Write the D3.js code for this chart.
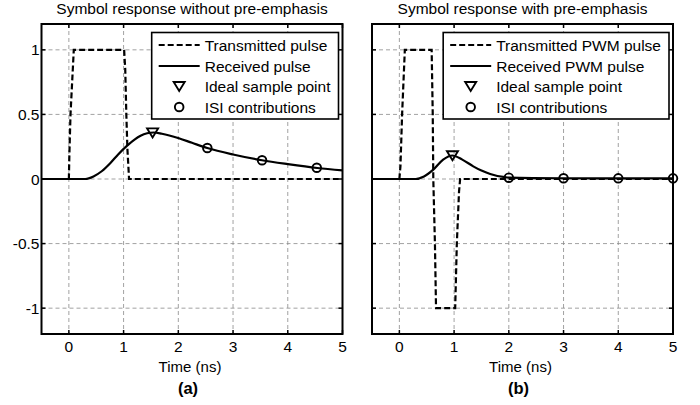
<!DOCTYPE html>
<html>
<head>
<meta charset="utf-8">
<script src="https://cdn.jsdelivr.net/npm/d3@7"></script>
<style>
	body { margin: 0; background: #fff; }
	text { font-family: "Liberation Sans", Arial, sans-serif; fill: #000; }
</style>
</head>
<body>
<div id="chart"></div>
<script>
// ticks
var xTicks = [0, 1, 2, 3, 4, 5];
var yTicks = [-1, -0.5, 0, 0.5, 1];
var yTickLabels = ["-1", "-0.5", "0", "0.5", "1"];

// (a) without pre-emphasis
var txTimeA = [-0.5, 0, 0.01, 0.03, 0.09, 1.01, 1.03, 1.05, 1.07, 1.1, 5];
var txA = [0, 0, 0.2, 0.5, 1, 1, 0.85, 0.5, 0.23, 0, 0];
var rxTimeA = [-0.5, 0, 0.3, 0.45, 0.6, 0.76, 0.9, 1.07, 1.2, 1.31, 1.43, 1.55, 1.7, 2.01, 2.25, 2.53, 3.0, 3.53, 4.0, 4.54, 5.0];
var rxA = [0, 0, 0, 0.02, 0.06, 0.124, 0.19, 0.26, 0.305, 0.335, 0.354, 0.36, 0.35, 0.315, 0.28, 0.24, 0.19, 0.145, 0.115, 0.085, 0.067];
var sampleTimeA = [1.53];
var sampleA = [0.357];
var isiTimeA = [2.53, 3.53, 4.53];
var isiA = [0.24, 0.145, 0.087];

// (b) with pre-emphasis
var txTimeB = [-0.5, 0, 0.02, 0.05, 0.1, 0.59, 0.61, 0.62, 0.65, 0.67, 1.02, 1.05, 1.09, 1.11, 5];
var txB = [0, 0, 0.1, 0.5, 1, 1, 0.5, 0, -0.5, -1, -1, -0.5, -0.1, 0, 0];
var rxTimeB = [-0.5, 0, 0.3, 0.45, 0.62, 0.8, 0.97, 1.15, 1.35, 1.5, 1.66, 1.93, 2.0, 3, 4, 5];
var rxB = [0, 0, 0, 0.02, 0.072, 0.15, 0.182, 0.15, 0.098, 0.065, 0.039, 0.014, 0.011, 0.006, 0.005, 0.005];
var sampleTimeB = [0.97];
var sampleB = [0.18];
var isiTimeB = [2, 3, 4, 5];
var isiB = [0.01, 0.006, 0.005, 0.005];

var titles = ["Symbol response without pre-emphasis", "Symbol response with pre-emphasis"];
var legendA = ["Transmitted pulse", "Received pulse", "Ideal sample point", "ISI contributions"];
var legendB = ["Transmitted PWM pulse", "Received PWM pulse", "Ideal sample point", "ISI contributions"];

var svg = d3.select("#chart")
	.append("svg")
	.attr("width", 700)
	.attr("height", 405)

var top0 = 24, plotH = 310, plotW = 301;

function zip(xs, ys) {
	return xs.map(function (x, i) { return [x, ys[i]] });
}

function triangle(sel) {
	sel.attr("d", "M-5.5,-4.5L5.5,-4.5L0,4.5Z")
		.attr("fill", "none")
		.attr("stroke", "#000")
		.attr("stroke-width", 1.9)
		.attr("stroke-linejoin", "miter")
}

function drawPanel(left, p) {
	var x = d3.scaleLinear().domain([-0.5, 5]).range([0, plotW]);
	var y = d3.scaleLinear().domain([-1.2, 1.2]).range([plotH, 0]);

	var g = svg.append("g").attr("transform", "translate(" + left + "," + top0 + ")");

	// grid
	g.selectAll(".vgrid").data(xTicks).enter().append("line")
		.attr("x1", function (d) { return x(d) }).attr("x2", function (d) { return x(d) })
		.attr("y1", 0).attr("y2", plotH)
		.attr("stroke", "#8a8a8a").attr("stroke-width", 0.8).attr("stroke-dasharray", "4,3")
	g.selectAll(".hgrid").data(yTicks).enter().append("line")
		.attr("y1", function (d) { return y(d) }).attr("y2", function (d) { return y(d) })
		.attr("x1", 0).attr("x2", plotW)
		.attr("stroke", "#8a8a8a").attr("stroke-width", 0.8).attr("stroke-dasharray", "4,3")

	var line = d3.line().x(function (d) { return x(d[0]) }).y(function (d) { return y(d[1]) });
	var smooth = d3.line().x(function (d) { return x(d[0]) }).y(function (d) { return y(d[1]) }).curve(d3.curveMonotoneX);

	g.append("path").datum(zip(p.txTime, p.tx))
		.attr("d", line).attr("fill", "none").attr("stroke", "#000")
		.attr("stroke-width", 2.2).attr("stroke-dasharray", "6,3")
	g.append("path").datum(zip(p.rxTime, p.rx))
		.attr("d", smooth).attr("fill", "none").attr("stroke", "#000").attr("stroke-width", 2.2)

	g.selectAll(".isi").data(zip(p.isiTime, p.isi)).enter().append("circle")
		.attr("cx", function (d) { return x(d[0]) }).attr("cy", function (d) { return y(d[1]) })
		.attr("r", 4.3).attr("fill", "none").attr("stroke", "#000").attr("stroke-width", 1.9)
	g.selectAll(".sample").data(zip(p.sampleTime, p.sample)).enter().append("path")
		.attr("transform", function (d) { return "translate(" + x(d[0]) + "," + y(d[1]) + ")" })
		.call(triangle)

	// box + ticks
	g.append("rect").attr("width", plotW).attr("height", plotH)
		.attr("fill", "none").attr("stroke", "#000").attr("stroke-width", 2)
	xTicks.forEach(function (t) {
		g.append("line").attr("x1", x(t)).attr("x2", x(t)).attr("y1", plotH).attr("y2", plotH - 4).attr("stroke", "#000").attr("stroke-width", 1.5)
		g.append("line").attr("x1", x(t)).attr("x2", x(t)).attr("y1", 0).attr("y2", 4).attr("stroke", "#000").attr("stroke-width", 1.5)
	})
	yTicks.forEach(function (t) {
		g.append("line").attr("y1", y(t)).attr("y2", y(t)).attr("x1", 0).attr("x2", 4).attr("stroke", "#000").attr("stroke-width", 1.5)
		g.append("line").attr("y1", y(t)).attr("y2", y(t)).attr("x1", plotW).attr("x2", plotW - 4).attr("stroke", "#000").attr("stroke-width", 1.5)
	})

	g.selectAll(".xlab").data(xTicks).enter().append("text")
		.attr("x", function (d) { return x(d) }).attr("y", plotH + 18)
		.attr("text-anchor", "middle").style("font-size", "15.5px")
		.text(function (d) { return d })
	if (p.yLabels) {
		g.selectAll(".ylab").data(yTicks).enter().append("text")
			.attr("x", -2).attr("y", function (d) { return y(d) + 5.5 })
			.attr("text-anchor", "end").style("font-size", "15.5px")
			.text(function (d, i) { return yTickLabels[i] })
	}

	g.append("text").attr("x", plotW / 2).attr("y", -10.5)
		.attr("text-anchor", "middle").style("font-size", "15.5px").text(p.title)
	g.append("text").attr("x", plotW / 2 - 2).attr("y", plotH + 37.5)
		.attr("text-anchor", "middle").style("font-size", "15px").text("Time (ns)")
	g.append("text").attr("x", plotW / 2 - 4).attr("y", plotH + 59.5)
		.attr("text-anchor", "middle").style("font-size", "16.5px").style("font-weight", "bold").text(p.tag)

	// legend
	var lg = g.append("g");
	var box = lg.append("rect").attr("y", 8.5).attr("height", 86.5)
		.attr("fill", "#fff").attr("stroke", "#000").attr("stroke-width", 1.6)
	var rows = [21, 42, 62.5, 83];
	var lens = p.legend.map(function (s, i) {
		return lg.append("text").attr("x", 53).attr("y", rows[i] + 5.5)
			.style("font-size", "15.5px").text(s).node().getComputedTextLength();
	});
	var bw = 53 + d3.max(lens) + 8;
	var bx = plotW - 4 - bw;
	lg.attr("transform", "translate(" + bx + ",0)");
	box.attr("width", bw);
	lg.append("line").attr("x1", 7).attr("x2", 48).attr("y1", rows[0]).attr("y2", rows[0])
		.attr("stroke", "#000").attr("stroke-width", 2.2).attr("stroke-dasharray", "6,3")
	lg.append("line").attr("x1", 7).attr("x2", 48).attr("y1", rows[1]).attr("y2", rows[1])
		.attr("stroke", "#000").attr("stroke-width", 2.2)
	lg.append("path").attr("transform", "translate(27.5," + rows[2] + ")").call(triangle)
	lg.append("circle").attr("cx", 27.5).attr("cy", rows[3]).attr("r", 4.3)
		.attr("fill", "none").attr("stroke", "#000").attr("stroke-width", 1.9)
}

drawPanel(41.5, {
	txTime: txTimeA, tx: txA, rxTime: rxTimeA, rx: rxA,
	sampleTime: sampleTimeA, sample: sampleA, isiTime: isiTimeA, isi: isiA,
	title: titles[0], legend: legendA, tag: "(a)", yLabels: true
});
drawPanel(372, {
	txTime: txTimeB, tx: txB, rxTime: rxTimeB, rx: rxB,
	sampleTime: sampleTimeB, sample: sampleB, isiTime: isiTimeB, isi: isiB,
	title: titles[1], legend: legendB, tag: "(b)", yLabels: false
});
</script>
</body>
</html>
